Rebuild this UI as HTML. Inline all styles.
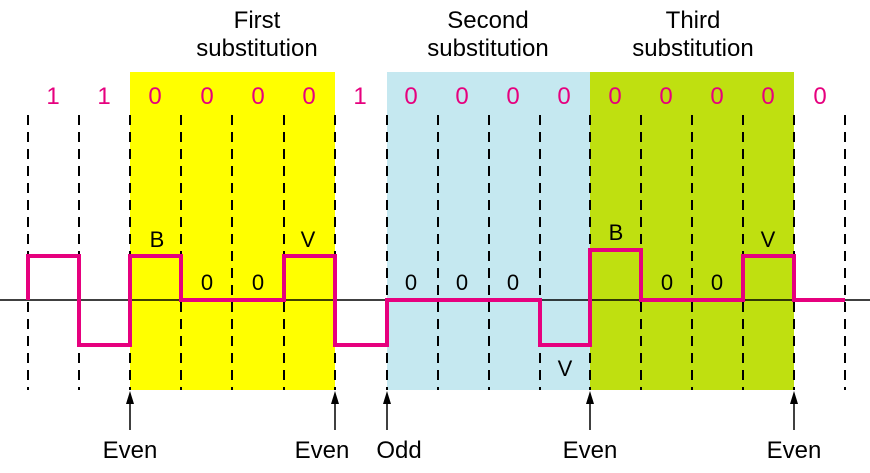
<!DOCTYPE html><html><head><style>body{margin:0;background:#fff}</style></head><body>
<svg width="870" height="468" xmlns="http://www.w3.org/2000/svg" font-family="Liberation Sans, sans-serif">
<rect x="130" y="72" width="205" height="318" fill="#ffff00"/>
<rect x="387" y="72" width="203" height="318" fill="#c5e8f0"/>
<rect x="590" y="72" width="204" height="318" fill="#bfe010"/>
<g font-size="24" text-anchor="middle" fill="#000">
<text x="257" y="28">First</text><text x="257" y="56">substitution</text>
<text x="488" y="28">Second</text><text x="488" y="56">substitution</text>
<text x="693" y="28">Third</text><text x="693" y="56">substitution</text>
</g>
<g font-size="24" text-anchor="middle" fill="#e6007e">
<text x="53" y="104">1</text><text x="104" y="104">1</text><text x="155" y="104">0</text><text x="207" y="104">0</text><text x="258" y="104">0</text><text x="309" y="104">0</text><text x="360" y="104">1</text><text x="411" y="104">0</text><text x="462" y="104">0</text><text x="513" y="104">0</text><text x="564" y="104">0</text><text x="615" y="104">0</text><text x="666" y="104">0</text><text x="717" y="104">0</text><text x="768" y="104">0</text><text x="820" y="104">0</text>
</g>
<g stroke="#000" stroke-width="2" stroke-dasharray="10,7">
<line x1="28" y1="115" x2="28" y2="390"/><line x1="79" y1="115" x2="79" y2="390"/><line x1="130" y1="115" x2="130" y2="390"/><line x1="181" y1="115" x2="181" y2="390"/><line x1="232" y1="115" x2="232" y2="390"/><line x1="284" y1="115" x2="284" y2="390"/><line x1="335" y1="115" x2="335" y2="390"/><line x1="387" y1="115" x2="387" y2="390"/><line x1="438" y1="115" x2="438" y2="390"/><line x1="489" y1="115" x2="489" y2="390"/><line x1="540" y1="115" x2="540" y2="390"/><line x1="590" y1="115" x2="590" y2="390"/><line x1="641" y1="115" x2="641" y2="390"/><line x1="692" y1="115" x2="692" y2="390"/><line x1="743" y1="115" x2="743" y2="390"/><line x1="794" y1="115" x2="794" y2="390"/><line x1="845" y1="115" x2="845" y2="390"/>
</g>
<line x1="0" y1="300" x2="870" y2="300" stroke="#000" stroke-width="1.5"/>
<polyline fill="none" stroke="#e6007e" stroke-width="4" points="28,300 28,256 79,256 79,345 130,345 130,256 181,256 181,300 284,300 284,256 335,256 335,345 387,345 387,300 540,300 540,345 590,345 590,250 641,250 641,300 743,300 743,256 794,256 794,300 845,300"/>
<g font-size="22" text-anchor="middle" fill="#000">
<text x="157" y="247">B</text><text x="308" y="247">V</text><text x="207" y="290">0</text><text x="258" y="290">0</text>
<text x="411" y="290">0</text><text x="462" y="290">0</text><text x="513" y="290">0</text><text x="565" y="376">V</text>
<text x="616" y="240">B</text><text x="768" y="247">V</text><text x="667" y="290">0</text><text x="717" y="290">0</text>
</g>
<g stroke="#000" stroke-width="1.5">
<line x1="130" y1="398" x2="130" y2="430"/><line x1="335" y1="398" x2="335" y2="430"/><line x1="387" y1="398" x2="387" y2="430"/><line x1="590" y1="398" x2="590" y2="430"/><line x1="794" y1="398" x2="794" y2="430"/>
</g>
<g fill="#000">
<polygon points="130,391 126,404 134,404"/><polygon points="335,391 331,404 339,404"/><polygon points="387,391 383,404 391,404"/><polygon points="590,391 586,404 594,404"/><polygon points="794,391 790,404 798,404"/>
</g>
<g font-size="24" text-anchor="middle" fill="#000">
<text x="130" y="458">Even</text><text x="322" y="458">Even</text><text x="399" y="458">Odd</text><text x="590" y="458">Even</text><text x="794" y="458">Even</text>
</g>
</svg>
</body></html>
